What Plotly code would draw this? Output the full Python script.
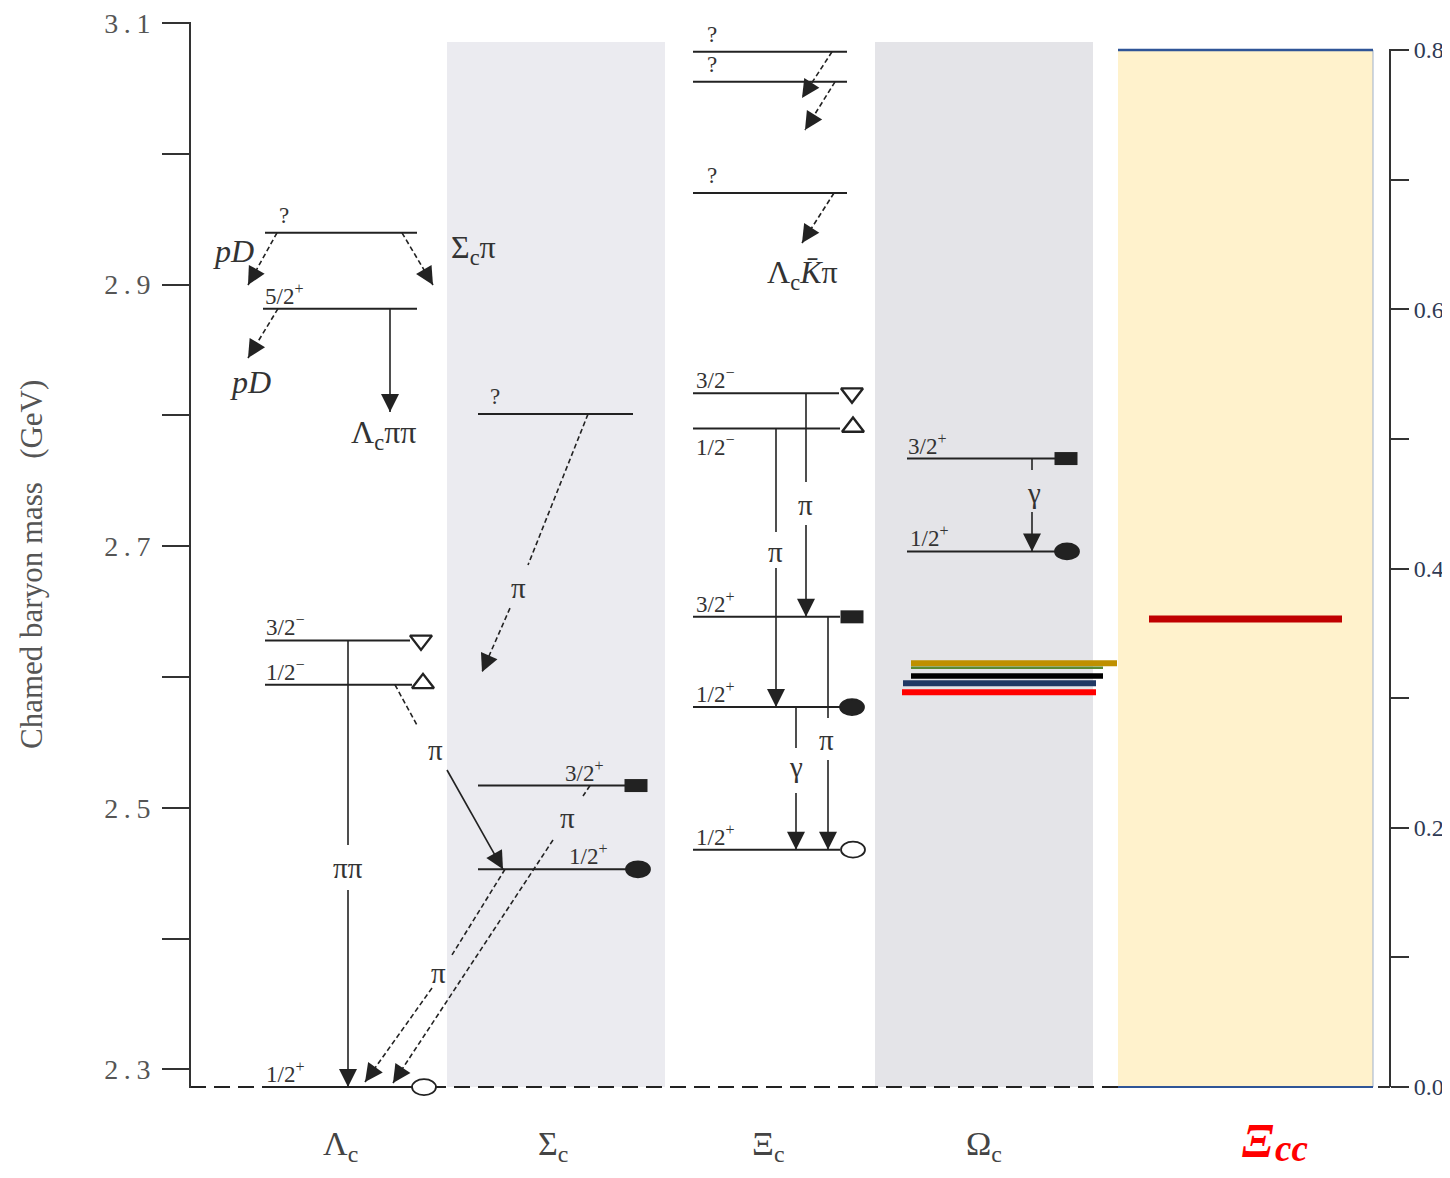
import math
import plotly.graph_objects as go

# ---------------------------------------------------------------- data
# Level masses (GeV) and J^P labels per column
lc_mass = [2.9396, 2.8816, 2.628, 2.594, 2.2865]
lc_jp = ["?", "5/2<sup>+</sup>", "3/2<sup>−</sup>", "1/2<sup>−</sup>", "1/2<sup>+</sup>"]
sc_mass = [2.801, 2.517, 2.453]
sc_jp = ["?", "3/2<sup>+</sup>", "1/2<sup>+</sup>"]
xc_mass = [3.078, 3.055, 2.970, 2.817, 2.790, 2.646, 2.577, 2.468]
xc_jp = ["?", "?", "?", "3/2<sup>−</sup>", "1/2<sup>−</sup>", "3/2<sup>+</sup>", "1/2<sup>+</sup>", "1/2<sup>+</sup>"]
oc_mass = [2.767, 2.696]
oc_jp = ["3/2<sup>+</sup>", "1/2<sup>+</sup>"]

# New states, right-hand scale
new_oc_exc = [0.327, 0.3235, 0.317, 0.3115, 0.3045]
xicc_exc = [0.361]

column_names = ["Λ<sub>c</sub>", "Σ<sub>c</sub>", "Ξ<sub>c</sub>", "Ω<sub>c</sub>"]

left_tickvals = [2.3, 2.4, 2.5, 2.6, 2.7, 2.8, 2.9, 3.0, 3.1]
left_ticktext = ["2\u2009.\u20093", "", "2\u2009.\u20095", "", "2\u2009.\u20097", "",
                 "2\u2009.\u20099", "", "3\u2009.\u20091"]
right_tickvals = [0.0, 0.1, 0.2, 0.3, 0.4, 0.5, 0.6, 0.7, 0.8]
right_ticktext = ["0.0", "", "0.2", "", "0.4", "", "0.6", "", "0.8"]

# Decay paths: segments (x, mass) -> (x, mass); arrow head on the last segment
decays = [
    dict(segs=[(277, 2.9396, 248, 2.8997)], dash=True),
    dict(segs=[(402, 2.9396, 433, 2.8997)], dash=True),
    dict(segs=[(278, 2.8816, 248, 2.8439)], dash=True),
    dict(segs=[(390, 2.8816, 390, 2.8026)], dash=False),
    dict(segs=[(348, 2.628, 348, 2.4716), (348, 2.4372, 348, 2.2865)], dash=False,
         lab="ππ", lx=348, lm=2.454),
    dict(segs=[(395, 2.594, 418, 2.5618)], dash=True, noarrow=True,
         lab="π", lx=435, lm=2.5442),
    dict(segs=[(447, 2.5289, 503, 2.453)], dash=False),
    dict(segs=[(505, 2.453, 452, 2.3875), (432, 2.3622, 365, 2.2904)], dash=True,
         lab="π", lx=438, lm=2.3737),
    dict(segs=[(590, 2.517, 583, 2.509), (553, 2.4754, 393, 2.2896)], dash=True,
         lab="π", lx=567, lm=2.4922),
    dict(segs=[(588, 2.801, 528, 2.6856), (510, 2.6527, 482, 2.6038)], dash=True,
         lab="π", lx=518, lm=2.668),
    dict(segs=[(832, 3.078, 802, 3.0427)], dash=True),
    dict(segs=[(835, 3.055, 805, 3.0182)], dash=True),
    dict(segs=[(834, 2.970, 802, 2.9318)], dash=True),
    dict(segs=[(806, 2.817, 806, 2.7491), (806, 2.7162, 806, 2.646)], dash=False,
         lab="π", lx=805, lm=2.7315),
    dict(segs=[(776, 2.790, 776, 2.7109), (776, 2.6833, 776, 2.577)], dash=False,
         lab="π", lx=775, lm=2.6956),
    dict(segs=[(828, 2.646, 828, 2.5687), (828, 2.5365, 828, 2.468)], dash=False,
         lab="π", lx=826, lm=2.5518),
    dict(segs=[(796, 2.577, 796, 2.5457), (796, 2.5113, 796, 2.468)], dash=False,
         lab="γ", lx=796, lm=2.5312),
    dict(segs=[(1032, 2.767, 1032, 2.7583), (1032, 2.7262, 1032, 2.696)], dash=False,
         lab="γ", lx=1034, lm=2.7407),
]

# Decay-product labels
products = [
    ("<i>pD</i>", 233, 2.926),
    ("Σ<sub>c</sub>π", 473, 2.9265),
    ("<i>pD</i>", 250, 2.8255),
    ("Λ<sub>c</sub>ππ", 383, 2.7855),
    ("Λ<sub>c</sub><i>K̄</i>π", 802, 2.908),
]

# ---------------------------------------------------------------- layout geometry
# (page pixels; the figure sits 8 px inside the page)
OFF = 8
PX_L, PX_R, PY_T, PY_B = 100, 1430, 10, 1100
W, H = 1442, 1162
ML, MT = PX_L - OFF, PY_T - OFF
MR = W - (PX_R - OFF)
MB = H - (PY_B - OFF)
PW, PH = PX_R - PX_L, PY_B - PY_T

PXPG = 1308.0           # px per GeV, left scale (3.1 at page y 23)
Y_TOP = 3.1 + (23 - PY_T) / PXPG
Y_BOT = 3.1 - (PY_B - 23) / PXPG
PXPU2 = 1296.25         # px per unit, right scale (0 at page y 1087)
Y2_TOP = (1087 - PY_T) / PXPU2
Y2_BOT = (1087 - PY_B) / PXPU2


def paper_x(px):
    return (px - PX_L) / PW


def paper_y(py):
    return (PY_B - py) / PH


INK = "#222222"
FONT = "Liberation Serif"

# level geometry per column: (x0, x1, label_x, label_mode, marker, marker_x)
lc_geo = [(265, 417, 284, "c", None, None), (263, 417, 263, "l", None, None),
          (265, 410, 264, "l", "tdown", 421), (265, 412, 264, "l", "tup", 423),
          (265, 412, 264, "l", "ocirc", 424)]
sc_geo = [(478, 633, 495, "c", None, None), (478, 626, 563, "l", "rect", 636),
          (478, 627, 567, "l", "circ", 638)]
xc_geo = [(693, 847, 712, "c", None, None), (693, 847, 712, "c", None, None),
          (693, 847, 712, "c", None, None), (693, 839, 694, "l", "tdown", 852),
          (693, 840, 694, "lb", "tup", 853), (693, 840, 694, "l", "rect", 852),
          (693, 840, 694, "l", "circ", 852), (693, 840, 694, "l", "ocirc", 853)]
oc_geo = [(907, 1055, 906, "l", "rect", 1066), (907, 1055, 908, "l", "circ", 1067)]

fig = go.Figure()
shapes = []
annots = []

# background bands
band_top = 3.1 - (42 - 23) / PXPG
shapes.append(dict(type="rect", xref="x", yref="y", x0=447, x1=665, y0=lc_mass[-1], y1=band_top,
                   fillcolor="#ebebf0", line_width=0, layer="below"))
shapes.append(dict(type="rect", xref="x", yref="y", x0=875, x1=1093, y0=lc_mass[-1], y1=band_top,
                   fillcolor="#e4e4e8", line_width=0, layer="below"))
# Xi_cc panel
shapes.append(dict(type="rect", xref="x", yref="y2", x0=1118, x1=1373, y0=0, y1=0.8,
                   fillcolor="#fff2cc", line_width=0, layer="below"))
shapes.append(dict(type="line", xref="x", yref="y2", x0=1373, x1=1373, y0=0, y1=0.8,
                   line=dict(color="#9fb1cc", width=1)))
shapes.append(dict(type="line", xref="x", yref="y2", x0=1118, x1=1373, y0=0.8, y1=0.8,
                   line=dict(color="#2f5597", width=2.5)))
shapes.append(dict(type="line", xref="x", yref="y2", x0=1118, x1=1373, y0=0, y1=0,
                   line=dict(color="#2f5597", width=2)))
# dashed baseline
shapes.append(dict(type="line", xref="x", yref="y", x0=190, x1=1118, y0=lc_mass[-1], y1=lc_mass[-1],
                   line=dict(color=INK, width=2, dash="16px,8px")))
# left axis line
shapes.append(dict(type="line", xref="x", yref="y", x0=190, x1=190, y0=3.1 + 1 / PXPG,
                   y1=3.1 - (1088 - 23) / PXPG, line=dict(color="#333333", width=2)))
# right axis line
shapes.append(dict(type="line", xref="x", yref="y2", x0=1390, x1=1390, y0=0, y1=0.8 + 1 / PXPU2,
                   line=dict(color="#333333", width=2)))
shapes.append(dict(type="line", xref="x", yref="y2", x0=1378, x1=1390, y0=0, y1=0,
                   line=dict(color="#333333", width=2)))

tri_x, tri_y, tri_sym = [], [], []


def add_levels(masses, jps, geo):
    for m, jp, g in zip(masses, jps, geo):
        x0, x1, lx, mode, mk, mx = g
        shapes.append(dict(type="line", xref="x", yref="y", x0=x0, x1=x1, y0=m, y1=m,
                           line=dict(color=INK, width=2)))
        if jp == "?":
            annots.append(dict(x=lx, y=m, xref="x", yref="y", text="?", showarrow=False,
                               xanchor="center", yanchor="bottom", yshift=3,
                               font=dict(family=FONT, size=23, color="#333")))
        elif mode == "lb":
            annots.append(dict(x=lx, y=m, xref="x", yref="y", text=jp, showarrow=False,
                               xanchor="left", yanchor="top", yshift=-1,
                               font=dict(family=FONT, size=23, color="#333")))
        else:
            annots.append(dict(x=lx, y=m, xref="x", yref="y", text=jp, showarrow=False,
                               xanchor="left", yanchor="bottom", yshift=-2,
                               font=dict(family=FONT, size=23, color="#333")))
        if mk == "rect":
            shapes.append(dict(type="rect", xref="x", yref="y", x0=mx - 11.5, x1=mx + 11.5,
                               y0=m - 6.5 / PXPG, y1=m + 6.5 / PXPG, fillcolor=INK, line_width=0))
        elif mk in ("circ", "ocirc"):
            shapes.append(dict(type="circle", xref="x", yref="y", x0=mx - 12, x1=mx + 12,
                               y0=m - 8 / PXPG, y1=m + 8 / PXPG,
                               fillcolor=INK if mk == "circ" else "white",
                               line=dict(color=INK, width=1.8)))
        elif mk in ("tdown", "tup"):
            tri_x.append(mx)
            tri_y.append(m if mk == "tdown" else m + 1.5 / PXPG)
            tri_sym.append("triangle-down-open" if mk == "tdown" else "triangle-up-open")


add_levels(lc_mass, lc_jp, lc_geo)
add_levels(sc_mass, sc_jp, sc_geo)
add_levels(xc_mass, xc_jp, xc_geo)
add_levels(oc_mass, oc_jp, oc_geo)

fig.add_trace(go.Scatter(x=tri_x, y=tri_y, mode="markers", hoverinfo="skip",
                         marker=dict(symbol=tri_sym, size=19, color=INK,
                                     line=dict(color=INK, width=2.4))))

# new Omega_c states (coloured bars)
new_colors = ["#bf9000", "#5b8a32", "#000000", "#203864", "#ff0000"]
new_x = [(911, 1117), (911, 1103), (911, 1103), (903, 1096), (902, 1096)]
new_w = [6, 2.5, 5.5, 6, 6]
for v, c, (a, b), w in zip(new_oc_exc, new_colors, new_x, new_w):
    shapes.append(dict(type="line", xref="x", yref="y2", x0=a, x1=b, y0=v, y1=v,
                       line=dict(color=c, width=w)))
for v in xicc_exc:
    shapes.append(dict(type="line", xref="x", yref="y2", x0=1149, x1=1342, y0=v, y1=v,
                       line=dict(color="#c00000", width=7)))

# decays
for d in decays:
    for (xa, ma, xb, mb) in d["segs"]:
        shapes.append(dict(type="line", xref="x", yref="y", x0=xa, x1=xb, y0=ma, y1=mb,
                           line=dict(color=INK, width=1.6,
                                     dash="5px,3px" if d["dash"] else "solid")))
    if not d.get("noarrow"):
        xa, ma, xb, mb = d["segs"][-1]
        dx = xb - xa
        dy = -(mb - ma) * PXPG
        L = math.hypot(dx, dy)
        back = 14
        annots.append(dict(x=xb, y=mb, xref="x", yref="y", ax=-dx / L * back, ay=-dy / L * back,
                           text="", showarrow=True, arrowhead=2, arrowsize=2.4, arrowwidth=1.5,
                           arrowcolor=INK, standoff=0))
    if "lab" in d:
        annots.append(dict(x=d["lx"], y=d["lm"], xref="x", yref="y", text=d["lab"], showarrow=False,
                           xanchor="center", yanchor="middle",
                           font=dict(family=FONT, size=29, color="#333")))

for t, x, m in products:
    annots.append(dict(x=x, y=m, xref="x", yref="y", text=t, showarrow=False,
                       xanchor="center", yanchor="middle",
                       font=dict(family=FONT, size=32, color="#333")))

# column names
for name, x in zip(column_names, [340, 553, 768, 984]):
    annots.append(dict(x=x, y=paper_y(1146), xref="x", yref="paper", text=name,
                       showarrow=False, xanchor="center", yanchor="middle",
                       font=dict(family=FONT, size=34, color="#444")))
annots.append(dict(x=1258, y=paper_y(1140), xref="x", yref="paper", text="<b><i>Ξ</i></b>",
                   showarrow=False, xanchor="center", yanchor="middle",
                   font=dict(family=FONT, size=48, color="#ff0000")))
annots.append(dict(x=1273, y=paper_y(1148), xref="x", yref="paper", text="<b><i>cc</i></b>",
                   showarrow=False, xanchor="left", yanchor="middle",
                   font=dict(family=FONT, size=37, color="#ff0000")))

# y-axis title
annots.append(dict(x=paper_x(32), y=paper_y(565), xref="paper", yref="paper",
                   text="Chamed baryon mass\u00a0\u00a0\u00a0(GeV)", textangle=-90, showarrow=False,
                   xanchor="center", yanchor="middle",
                   font=dict(family=FONT, size=31, color="#555")))

fig.update_layout(
    width=W, height=H,
    margin=dict(l=ML, r=MR, t=MT, b=MB),
    paper_bgcolor="white", plot_bgcolor="white",
    showlegend=False,
    shapes=shapes,
    annotations=annots,
    xaxis=dict(range=[PX_L, PX_R], visible=False, fixedrange=True),
    yaxis=dict(range=[Y_BOT, Y_TOP], anchor="free", position=paper_x(190),
               tickvals=left_tickvals, ticktext=left_ticktext,
               ticks="outside", ticklen=28, tickwidth=2, tickcolor="#333",
               showline=False, showgrid=False, zeroline=False,
               tickfont=dict(family=FONT, size=28, color="#555"), automargin=False,
               ticklabelstandoff=6, ticklabeloverflow="allow"),
    yaxis2=dict(range=[Y2_BOT, Y2_TOP], overlaying="y", side="right", anchor="free",
                position=paper_x(1390),
                tickvals=right_tickvals, ticktext=right_ticktext,
                ticks="outside", ticklen=18, tickwidth=2, tickcolor="#333",
                showline=False, showgrid=False, zeroline=False,
                tickfont=dict(family=FONT, size=24, color="#2e3a55"), automargin=False,
                ticklabelstandoff=0, ticklabeloverflow="allow"),
)

fig.write_html("out.html")
